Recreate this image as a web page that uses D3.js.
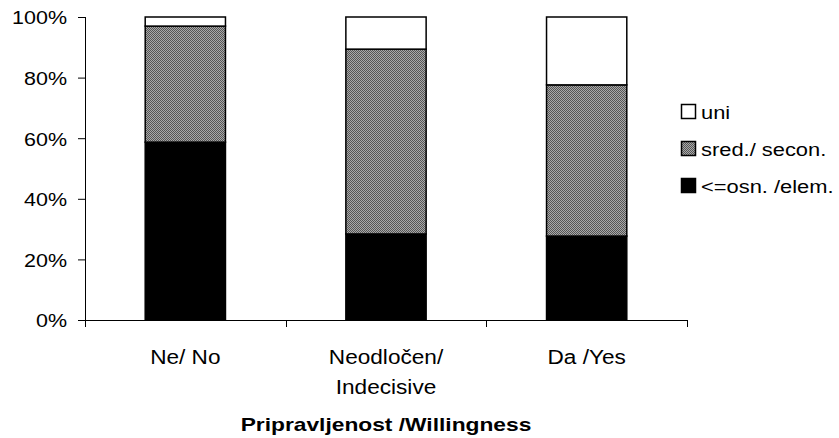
<!DOCTYPE html>
<html><head><meta charset="utf-8">
<script src="https://cdn.jsdelivr.net/npm/d3@7"></script>
<style>body{margin:0;background:#fff}svg{display:block}text{font-family:"Liberation Sans",Arial,sans-serif}</style>
</head><body><svg id="c" width="839" height="438"></svg>
<script>
const categories = [["Ne/ No"], ["Neodločen/", "Indecisive"], ["Da /Yes"]];
const seriesNames = ["<=osn. /elem.", "sred./ secon.", "uni"];
const elem = [58.7, 28.4, 27.7];
const secon = [38.3, 61.0, 49.9];
const uni = [3.0, 10.6, 22.4];
const yTicks = [0, 20, 40, 60, 80, 100];
const xTitle = "Pripravljenost /Willingness";

(function(){
const svg = d3.select("#c");
const defs = svg.append("defs");
const pat = defs.append("pattern").attr("id","dither").attr("patternUnits","userSpaceOnUse").attr("width",2).attr("height",2);
pat.append("rect").attr("width",2).attr("height",2).attr("fill","#a9a9a9");
pat.append("rect").attr("width",1).attr("height",1).attr("fill","#555");
pat.append("rect").attr("x",1).attr("y",1).attr("width",1).attr("height",1).attr("fill","#555");

function stretch(sel, sx){
  sel.each(function(){
    const w = this.getComputedTextLength();
    d3.select(this).attr("textLength", w*sx).attr("lengthAdjust","spacingAndGlyphs");
  });
}

const fills = ["#000", "url(#dither)", "#fff"];
const pL = 85, pR = 687, pT = 17, pB = 320;
const x = d3.scaleBand().domain(d3.range(categories.length)).range([pL, pR]).paddingInner(0.6).paddingOuter(0.3);
const y = d3.scaleLinear().domain([0,100]).range([pB, pT]);

const rows = categories.map((c,i)=>({i, "<=osn. /elem.":elem[i], "sred./ secon.":secon[i], "uni":uni[i]}));
const stack = d3.stack().keys(seriesNames)(rows);

stack.forEach((s,k)=>{
  svg.append("g").selectAll("rect").data(s).join("rect")
    .attr("x", d=>x(d.data.i)).attr("width", x.bandwidth())
    .attr("y", d=>y(d[1])).attr("height", d=>y(d[0])-y(d[1]))
    .attr("fill", fills[k]).attr("stroke","#000").attr("stroke-width",1.5);
});

const ya = svg.append("g").attr("transform",`translate(${pL},0)`)
  .call(d3.axisLeft(y).tickValues(yTicks).tickFormat(d=>d+"%").tickSize(7).tickPadding(11));
ya.select(".domain").attr("d",`M0.5,${pT}V${pB+7}`).attr("stroke","#000");
ya.selectAll("text").attr("font-size",19).attr("fill","#000").attr("font-family","Liberation Sans, Arial, sans-serif").attr("dy","0.36em");
ya.selectAll("line").attr("stroke","#000");
stretch(ya.selectAll("text"), 1.13);

const xBounds = d3.range(categories.length+1).map(i=> pL + (pR-pL)*i/categories.length);
const xa = svg.append("g");
xa.append("line").attr("x1",pL-7).attr("x2",pR).attr("y1",pB+0.5).attr("y2",pB+0.5).attr("stroke","#000");
xa.selectAll("line.t").data(xBounds).join("line").attr("class","t")
  .attr("x1",d=>Math.round(d)+0.5).attr("x2",d=>Math.round(d)+0.5).attr("y1",pB).attr("y2",pB+7).attr("stroke","#000");

categories.forEach((c,i)=>{
  const cx = x(i)+x.bandwidth()/2;
  c.forEach((line,j)=>{
    const t = svg.append("text").attr("x", cx).attr("y",364 + j*30).attr("text-anchor","middle").attr("font-size",20).attr("fill","#000").text(line);
    stretch(t, 1.13);
  });
});

const tt = svg.append("text").attr("x",(pL+pR)/2).attr("y",431).attr("text-anchor","middle")
  .attr("font-size",18.5).attr("font-weight","bold").text(xTitle);
stretch(tt, 1.23);

const legendOrder = [2,1,0];
const lg = svg.append("g");
legendOrder.forEach((k,j)=>{
  const yy = 104 + j*37;
  lg.append("rect").attr("x",681.5).attr("y",yy+0.5).attr("width",14).attr("height",14)
    .attr("fill",fills[k]).attr("stroke","#000").attr("stroke-width",1.5);
  const t = lg.append("text").attr("x",701).attr("y",yy+15).attr("font-size",17.5).text(seriesNames[k]);
  stretch(t, 1.25);
});
})();
</script></body></html>
